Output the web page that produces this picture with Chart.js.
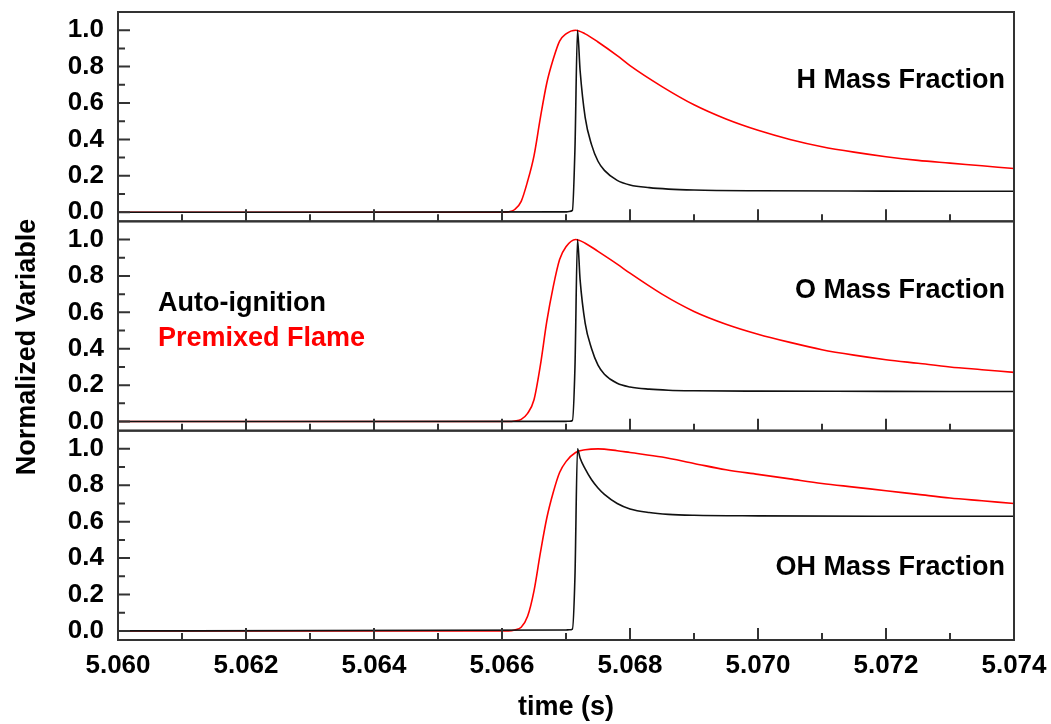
<!DOCTYPE html>
<html>
<head>
<meta charset="utf-8">
<script src="https://cdn.jsdelivr.net/npm/chart.js@4.4.1/dist/chart.umd.min.js"></script>
<style>
  body { margin: 0; background: #fff; }
  canvas { display: block; }
</style>
</head>
<body>
<canvas id="massChart" width="1051" height="724"></canvas>
<script>
// tick values
const xTicks = [5.060, 5.062, 5.064, 5.066, 5.068, 5.070, 5.072, 5.074];
const yTicks = [0, 0.2, 0.4, 0.6, 0.8, 1.0];

// premixed flame (red) samples, shared time grid
const redTime = [5.0600, 5.0660, 5.0661, 5.0662, 5.0663, 5.0664, 5.0665, 5.0666, 5.0667, 5.0668, 5.0669, 5.0670,
                 5.06715, 5.0673, 5.0675, 5.0678, 5.0680, 5.0685, 5.0690, 5.0695, 5.0700, 5.0705, 5.0710, 5.0715,
                 5.0720, 5.0725, 5.0730, 5.0735, 5.0740];
const hRed  = [0, 0, 0.002, 0.015, 0.06, 0.17, 0.31, 0.52, 0.71, 0.84, 0.94, 0.98,
               1.0, 0.98, 0.935, 0.86, 0.805, 0.69, 0.59, 0.512, 0.45, 0.40, 0.36, 0.33,
               0.305, 0.285, 0.27, 0.255, 0.24];
const oRed  = [0, 0, 0, 0.003, 0.012, 0.045, 0.12, 0.31, 0.55, 0.74, 0.89, 0.96,
               1.0, 0.98, 0.935, 0.865, 0.815, 0.70, 0.605, 0.535, 0.48, 0.435, 0.395, 0.365,
               0.34, 0.32, 0.30, 0.285, 0.27];
const ohRed = [0, 0, 0, 0.005, 0.02, 0.08, 0.22, 0.43, 0.62, 0.76, 0.87, 0.93,
               0.98, 0.995, 1.0, 0.99, 0.98, 0.955, 0.92, 0.885, 0.86, 0.835, 0.81, 0.79,
               0.77, 0.75, 0.73, 0.715, 0.70];

// auto-ignition (black) samples, shared time grid
const blackTime = [5.0600, 5.0670, 5.06705, 5.0671, 5.06714, 5.06718, 5.06722, 5.0673, 5.0674, 5.0675,
                   5.0676, 5.0678, 5.0680, 5.0683, 5.0686, 5.0690, 5.0700, 5.0720, 5.0740];
const hBlack  = [0, 0.002, 0.004, 0.01, 0.35, 1.0, 0.78, 0.52, 0.37, 0.28,
                 0.23, 0.175, 0.15, 0.135, 0.127, 0.122, 0.118, 0.116, 0.115];
const oBlack  = [0, 0.001, 0.002, 0.006, 0.3, 1.0, 0.78, 0.54, 0.40, 0.31,
                 0.26, 0.21, 0.19, 0.178, 0.172, 0.169, 0.167, 0.166, 0.165];
const ohBlack = [0, 0.005, 0.006, 0.01, 0.3, 1.0, 0.95, 0.89, 0.83, 0.785,
                 0.75, 0.70, 0.67, 0.65, 0.64, 0.635, 0.632, 0.63, 0.63];

const FONT = '"Liberation Sans", Arial, sans-serif';
Chart.defaults.font.family = FONT;
Chart.defaults.font.weight = 'bold';
Chart.defaults.color = '#000';

const panels = [
    { axis: 'yH',  label: 'H Mass Fraction',  labelY: 0.725 },
    { axis: 'yO',  label: 'O Mass Fraction',  labelY: 0.72 },
    { axis: 'yOH', label: 'OH Mass Fraction', labelY: 0.35 }
];

function toPoints(times, values) {
    return times.map((t, i) => ({ x: t, y: values[i] }));
}

function lineSet(label, times, values, color, axis) {
    return {
        label,
        data: toPoints(times, values),
        borderColor: color,
        borderWidth: 1.6,
        pointRadius: 0,
        fill: false,
        cubicInterpolationMode: 'monotone',
        yAxisID: axis
    };
}

function yScale() {
    return {
        type: 'linear',
        position: 'left',
        stack: 'panels',
        stackWeight: 1,
        min: -0.05,
        max: 1.1,
        grid: { display: false, drawTicks: false },
        border: { display: false },
        afterBuildTicks: axis => { axis.ticks = yTicks.map(v => ({ value: v })); },
        afterFit: axis => {
            axis.width = 118;
            axis.paddingTop = 0;
            axis.paddingBottom = 0;
        },
        ticks: {
            padding: 14,
            autoSkip: false,
            font: { size: 26, weight: 'bold' },
            callback: v => v.toFixed(1)
        }
    };
}

// frames, inward ticks and panel texts
const framePlugin = {
    id: 'frames',
    afterDatasetsDraw(chart) {
        const ctx = chart.ctx;
        const area = chart.chartArea;
        const xs = chart.scales.x;
        ctx.save();
        panels.forEach(p => {
            const ys = chart.scales[p.axis];
            ctx.strokeStyle = '#333';
            ctx.lineWidth = 2;
            ctx.strokeRect(area.left, ys.top, area.right - area.left, ys.bottom - ys.top);
            ctx.beginPath();
            xTicks.forEach((v, i) => {
                const px = xs.getPixelForValue(v);
                ctx.moveTo(px, ys.bottom);
                ctx.lineTo(px, ys.bottom - 12);
                if (i < xTicks.length - 1) {
                    const mx = xs.getPixelForValue((v + xTicks[i + 1]) / 2);
                    ctx.moveTo(mx, ys.bottom);
                    ctx.lineTo(mx, ys.bottom - 7);
                }
            });
            yTicks.forEach((v, i) => {
                const py = ys.getPixelForValue(v);
                ctx.moveTo(area.left, py);
                ctx.lineTo(area.left + 12, py);
                if (i < yTicks.length - 1) {
                    const my = ys.getPixelForValue((v + yTicks[i + 1]) / 2);
                    ctx.moveTo(area.left, my);
                    ctx.lineTo(area.left + 7, my);
                }
            });
            ctx.stroke();

            ctx.fillStyle = '#000';
            ctx.font = 'bold 27px ' + FONT;
            ctx.textAlign = 'right';
            ctx.textBaseline = 'middle';
            ctx.fillText(p.label, area.right - 9, ys.getPixelForValue(p.labelY));
        });

        // legend text in the middle panel
        const yO = chart.scales.yO;
        ctx.textAlign = 'left';
        ctx.font = 'bold 27px ' + FONT;
        ctx.fillStyle = '#000';
        ctx.fillText('Auto-ignition', area.left + 40, yO.getPixelForValue(0.65));
        ctx.fillStyle = '#ff0000';
        ctx.fillText('Premixed Flame', area.left + 40, yO.getPixelForValue(0.455));

        // shared y title
        ctx.fillStyle = '#000';
        ctx.translate(28, 347);
        ctx.rotate(-Math.PI / 2);
        ctx.textAlign = 'center';
        ctx.fillText('Normalized Variable', 0, 0);
        ctx.restore();
    }
};

const ctx = document.getElementById('massChart').getContext('2d');
const chart = new Chart(ctx, {
    type: 'line',
    data: {
        datasets: [
            lineSet('H auto-ignition', blackTime, hBlack, '#111', 'yH'),
            lineSet('O auto-ignition', blackTime, oBlack, '#111', 'yO'),
            lineSet('OH auto-ignition', blackTime, ohBlack, '#111', 'yOH'),
            lineSet('H premixed', redTime, hRed, '#ff0000', 'yH'),
            lineSet('O premixed', redTime, oRed, '#ff0000', 'yO'),
            lineSet('OH premixed', redTime, ohRed, '#ff0000', 'yOH')
        ]
    },
    options: {
        responsive: false,
        animation: false,
        layout: { padding: { left: 0, top: 12, right: 37, bottom: 0 } },
        plugins: {
            legend: { display: false },
            tooltip: { enabled: false }
        },
        scales: {
            x: {
                type: 'linear',
                min: 5.060,
                max: 5.074,
                grid: { display: false, drawTicks: false },
                border: { display: false },
                afterBuildTicks: axis => { axis.ticks = xTicks.map(v => ({ value: v })); },
                afterFit: axis => {
                    axis.height = 84;
                    axis.paddingLeft = 0;
                    axis.paddingRight = 0;
                },
                ticks: {
                    padding: 10,
                    maxRotation: 0,
                    autoSkip: false,
                    font: { size: 26, weight: 'bold' },
                    callback: v => v.toFixed(3)
                },
                title: {
                    display: true,
                    text: 'time (s)',
                    font: { size: 27, weight: 'bold' },
                    padding: { top: 0, bottom: 0 }
                }
            },
            // stacked axes: the last one listed is drawn at the top
            yOH: yScale(),
            yO: yScale(),
            yH: yScale()
        }
    },
    plugins: [framePlugin]
});
</script>
</body>
</html>
